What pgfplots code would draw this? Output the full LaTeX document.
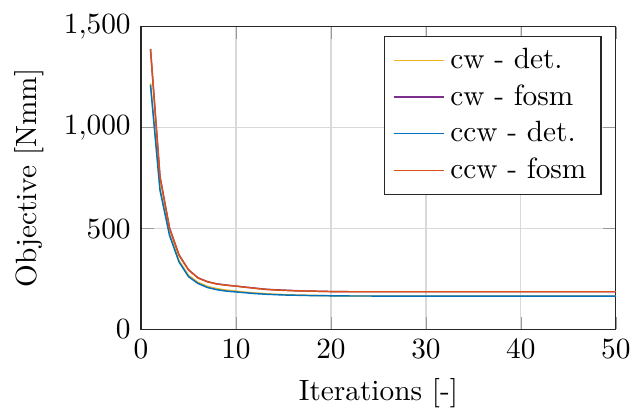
\documentclass[border=0pt]{standalone}
\usepackage{pgfplots}
\usepackage{pgfplotstable}
\pgfplotsset{compat=1.18}

\definecolor{mlblue}{rgb}{0,0.447,0.741}
\definecolor{mlred}{rgb}{0.85,0.325,0.098}
\definecolor{mlyellow}{rgb}{0.929,0.694,0.125}
\definecolor{mlpurple}{rgb}{0.494,0.184,0.556}

\pgfplotstableread{
it cwdet cwfosm ccwdet ccwfosm
1 1219 1390 1211 1388
2 700 758 690 755
3 475 504 467 502
4 342 370 335 368
5 268 296 262 295
6 234 256 228 255
7 213 237 208 236
8 202 226 197 225
9 195 220 190 219
10 190 215 186 215
11 185 210 182 209
12 181 205 178 204
13 178 200 175 199
14 175 197 173 196
15 173 195 171 194
16 171 193 170 192
17 170 191 169 191
18 169 190 168 190
19 168 189 167.5 189
20 167 188 167 188
21 166.5 187.5 166.5 187.5
22 166 187 166 187
23 166 187 166 187
24 166 187 166 187
25 165.5 187 165.5 187
26 165.5 187 165.5 187
27 165.5 187 165.5 187
28 165 187 165 187
29 165 187 165 187
30 165 187 165 187
31 165 187 165 187
32 165 187 165 187
33 165 187 165 187
34 165 187 165 187
35 165 187 165 187
36 165 187 165 187
37 165 187 165 187
38 165 187 165 187
39 165 187 165 187
40 165 187 165 187
41 165 187 165 187
42 165 187 165 187
43 165 187 165 187
44 165 187 165 187
45 165 187 165 187
46 165 187 165 187
47 165 187 165 187
48 165 187 165 187
49 165 187 165 187
50 165 187 165 187
}\objdata

\begin{document}
\begin{tikzpicture}
\begin{axis}[
    scale only axis,
    width=162pt,
    height=103.3pt,
    xmin=0, xmax=50,
    ymin=0, ymax=1500,
    xtick={0,10,20,30,40,50},
    ytick={0,500,1000,1500},
    grid=major,
    major grid style={black!15},
    tick style={black!40},
    axis line style={black!85},
    xlabel={Iterations [-]},
    ylabel={Objective [Nmm]},
    legend cell align=left,
    legend pos=north east,
    legend style={draw=black!85},
]
\addplot[color=mlyellow, line width=0.5pt, no marks] table[x=it, y=cwdet] {\objdata};
\addplot[color=mlpurple, line width=0.5pt, no marks] table[x=it, y=cwfosm] {\objdata};
\addplot[color=mlblue, line width=0.5pt, no marks] table[x=it, y=ccwdet] {\objdata};
\addplot[color=mlred, line width=0.5pt, no marks] table[x=it, y=ccwfosm] {\objdata};
\legend{cw - det., cw - fosm, ccw - det., ccw - fosm}
\end{axis}
\pgfresetboundingbox
\path[use as bounding box] ([xshift=-48.1pt,yshift=-27.5pt]current axis.south west) rectangle ([xshift=5.5pt,yshift=9.1pt]current axis.north east);
\end{tikzpicture}
\end{document}
